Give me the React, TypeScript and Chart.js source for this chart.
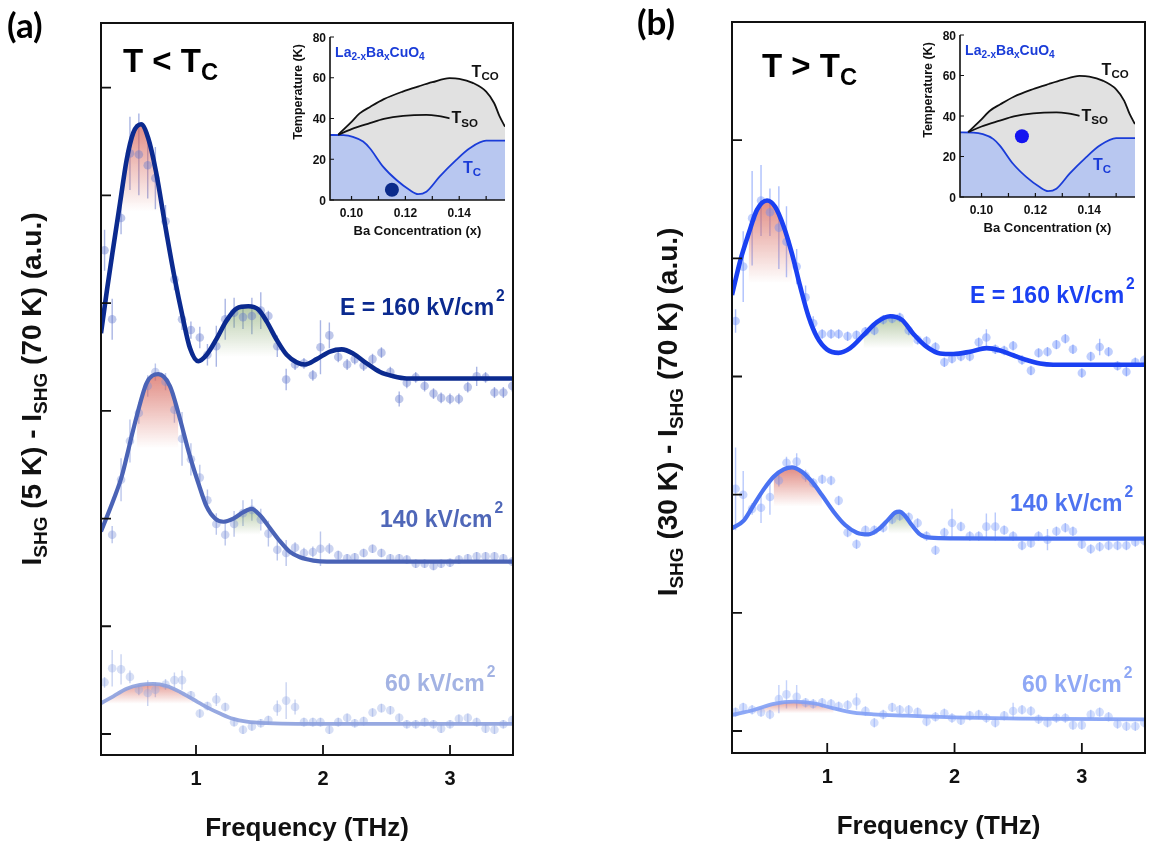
import { useEffect, useRef } from "react";
import { Chart, registerables } from "chart.js";

Chart.register(...registerables);

const SANS = '"Liberation Sans", Arial, Helvetica, sans-serif';
const LETTER = 'Lato, "Open Sans", sans-serif';

// ---------- data: main panels ----------
const FREQ = [0.28, 0.34, 0.41, 0.48, 0.55, 0.62, 0.68, 0.76, 0.83, 0.89, 0.96, 1.03, 1.09, 1.16, 1.23, 1.3, 1.37, 1.44, 1.51, 1.57, 1.64, 1.71, 1.78, 1.85, 1.92, 1.98, 2.05, 2.12, 2.19, 2.25, 2.32, 2.39, 2.46, 2.53, 2.6, 2.66, 2.73, 2.8, 2.87, 2.93, 3.0, 3.07, 3.14, 3.21, 3.28, 3.35, 3.42, 3.49];
const X_TICKS = [1, 2, 3];
const Y_TICKS_A = [0, 1, 2, 3, 4, 5, 6];
const Y_TICKS_B = [0, 1, 2, 3, 4, 5];

// Panel (a): T < Tc
const A160 = [4.49, 3.85, 4.79, 5.39, 5.38, 5.28, 5.16, 4.76, 4.22, 3.85, 3.75, 3.68, 3.52, 3.6, 3.85, 3.91, 3.87, 3.88, 3.93, 3.88, 3.6, 3.29, 3.43, 3.44, 3.33, 3.59, 3.7, 3.5, 3.43, 3.48, 3.42, 3.48, 3.54, 3.36, 3.11, 3.26, 3.31, 3.23, 3.16, 3.12, 3.11, 3.11, 3.22, 3.32, 3.31, 3.17, 3.17, 3.23];
const A160_ERR = [0.19, 0.19, 0.15, 0.34, 0.38, 0.31, 0.29, 0.15, 0.1, 0.1, 0.08, 0.1, 0.1, 0.19, 0.19, 0.14, 0.11, 0.17, 0.17, 0.05, 0.1, 0.1, 0.05, 0.05, 0.05, 0.25, 0.12, 0.05, 0.05, 0.05, 0.05, 0.05, 0.05, 0.05, 0.07, 0.05, 0.05, 0.05, 0.05, 0.05, 0.05, 0.05, 0.05, 0.09, 0.05, 0.05, 0.05, 0.05];
const A140 = [null, 1.85, 2.36, 2.72, 2.98, 3.23, 3.36, 3.27, 3.01, 2.74, 2.55, 2.38, 2.17, 1.95, 1.85, 1.95, 2.05, 2.08, 1.99, 1.86, 1.71, 1.68, 1.73, 1.68, 1.69, 1.72, 1.72, 1.66, 1.63, 1.64, 1.68, 1.72, 1.68, 1.63, 1.63, 1.62, 1.58, 1.58, 1.56, 1.58, 1.59, 1.62, 1.63, 1.65, 1.65, 1.65, 1.63, 1.6];
const A140_ERR = [0, 0.08, 0.2, 0.2, 0.1, 0.1, 0.08, 0.08, 0.12, 0.25, 0.15, 0.12, 0.1, 0.1, 0.1, 0.12, 0.12, 0.1, 0.1, 0.12, 0.1, 0.12, 0.05, 0.05, 0.05, 0.16, 0.05, 0.04, 0.04, 0.04, 0.04, 0.04, 0.04, 0.04, 0.04, 0.04, 0.04, 0.04, 0.04, 0.04, 0.04, 0.04, 0.04, 0.04, 0.04, 0.04, 0.04, 0.04];
const A60 = [0.48, 0.61, 0.6, 0.53, 0.41, 0.38, 0.41, 0.46, 0.5, 0.5, 0.36, 0.19, 0.26, 0.32, 0.25, 0.11, 0.04, 0.07, 0.1, 0.13, 0.24, 0.31, 0.25, 0.11, 0.11, 0.11, 0.04, 0.11, 0.15, 0.1, 0.12, 0.2, 0.24, 0.22, 0.15, 0.09, 0.09, 0.11, 0.09, 0.05, 0.09, 0.14, 0.15, 0.11, 0.05, 0.04, 0.09, 0.13];
const A60_ERR = [0.05, 0.17, 0.14, 0.06, 0.05, 0.12, 0.07, 0.05, 0.07, 0.09, 0.04, 0.04, 0.04, 0.06, 0.04, 0.04, 0.04, 0.04, 0.04, 0.04, 0.07, 0.17, 0.07, 0.04, 0.04, 0.04, 0.04, 0.04, 0.04, 0.04, 0.04, 0.04, 0.04, 0.04, 0.04, 0.04, 0.04, 0.04, 0.04, 0.04, 0.04, 0.04, 0.04, 0.04, 0.04, 0.04, 0.04, 0.04];
const FIT_A160 = [[0.252, 3.72], [0.3, 4.13], [0.349, 4.52], [0.402, 4.93], [0.454, 5.33], [0.506, 5.58], [0.567, 5.66], [0.624, 5.53], [0.685, 5.22], [0.759, 4.71], [0.829, 4.25], [0.895, 3.87], [0.953, 3.58], [1.018, 3.46], [1.084, 3.52], [1.163, 3.67], [1.242, 3.84], [1.32, 3.95], [1.412, 3.97], [1.491, 3.94], [1.556, 3.83], [1.635, 3.66], [1.714, 3.52], [1.793, 3.45], [1.858, 3.43], [1.95, 3.48], [2.055, 3.55], [2.147, 3.57], [2.239, 3.53], [2.344, 3.44], [2.449, 3.36], [2.554, 3.32], [2.659, 3.3], [2.8, 3.3], [3.0, 3.3], [3.2, 3.3], [3.496, 3.3]];
const FIT_A140 = [[0.252, 1.88], [0.349, 2.17], [0.415, 2.39], [0.48, 2.7], [0.533, 2.95], [0.612, 3.26], [0.703, 3.34], [0.795, 3.23], [0.861, 2.98], [0.953, 2.575], [1.018, 2.33], [1.084, 2.11], [1.15, 2.0], [1.215, 1.97], [1.294, 2.0], [1.373, 2.06], [1.438, 2.09], [1.504, 2.03], [1.583, 1.91], [1.661, 1.79], [1.74, 1.69], [1.819, 1.64], [1.924, 1.61], [2.03, 1.6], [2.5, 1.6], [3.0, 1.6], [3.496, 1.6]];
const FIT_A60 = [[0.252, 0.285], [0.349, 0.35], [0.454, 0.42], [0.559, 0.455], [0.664, 0.465], [0.769, 0.445], [0.874, 0.39], [0.979, 0.32], [1.084, 0.25], [1.189, 0.19], [1.294, 0.14], [1.399, 0.115], [1.557, 0.1], [1.793, 0.093], [2.5, 0.093], [3.496, 0.093]];

// Panel (b): T > Tc
const B160 = [3.47, 3.93, 4.34, 4.49, 4.39, 4.26, 4.14, 3.93, 3.67, 3.45, 3.36, 3.36, 3.36, 3.34, 3.35, 3.38, 3.39, 3.48, 3.49, 3.5, 3.39, 3.31, 3.3, 3.25, 3.12, 3.15, 3.17, 3.17, 3.29, 3.33, 3.23, 3.22, 3.26, 3.14, 3.05, 3.2, 3.21, 3.27, 3.32, 3.23, 3.03, 3.17, 3.25, 3.21, 3.09, 3.04, 3.12, 3.14];
const B160_ERR = [0.1, 0.3, 0.4, 0.3, 0.2, 0.35, 0.3, 0.15, 0.1, 0.06, 0.04, 0.04, 0.04, 0.04, 0.04, 0.04, 0.04, 0.04, 0.04, 0.04, 0.04, 0.04, 0.04, 0.04, 0.04, 0.04, 0.04, 0.04, 0.04, 0.07, 0.04, 0.04, 0.04, 0.04, 0.04, 0.04, 0.04, 0.04, 0.04, 0.04, 0.04, 0.04, 0.07, 0.04, 0.04, 0.04, 0.04, 0.04];
const B140 = [2.05, 2.0, 1.88, 1.89, 1.98, 2.12, 2.27, 2.28, 2.16, 2.1, 2.13, 2.12, 1.95, 1.68, 1.58, 1.7, 1.7, 1.72, 1.79, 1.82, 1.81, 1.76, 1.65, 1.53, 1.68, 1.76, 1.73, 1.65, 1.65, 1.73, 1.73, 1.7, 1.65, 1.57, 1.59, 1.65, 1.62, 1.69, 1.72, 1.69, 1.58, 1.54, 1.56, 1.57, 1.57, 1.57, 1.6, 1.61];
const B140_ERR = [0.35, 0.2, 0.05, 0.13, 0.15, 0.05, 0.05, 0.07, 0.05, 0.04, 0.04, 0.04, 0.04, 0.04, 0.04, 0.04, 0.04, 0.04, 0.04, 0.04, 0.04, 0.04, 0.04, 0.04, 0.04, 0.12, 0.04, 0.04, 0.04, 0.11, 0.12, 0.04, 0.04, 0.04, 0.04, 0.04, 0.09, 0.04, 0.04, 0.04, 0.04, 0.04, 0.04, 0.04, 0.04, 0.04, 0.04, 0.04];
const B60 = [0.16, 0.2, 0.18, 0.16, 0.14, 0.27, 0.31, 0.29, 0.24, 0.23, 0.24, 0.23, 0.21, 0.22, 0.25, 0.17, 0.07, 0.14, 0.2, 0.18, 0.18, 0.16, 0.08, 0.12, 0.15, 0.11, 0.09, 0.13, 0.14, 0.11, 0.07, 0.13, 0.17, 0.18, 0.17, 0.1, 0.07, 0.11, 0.11, 0.05, 0.05, 0.14, 0.16, 0.12, 0.06, 0.04, 0.04, 0.07];
const B60_ERR = [0.04, 0.04, 0.04, 0.04, 0.04, 0.12, 0.12, 0.1, 0.04, 0.04, 0.04, 0.04, 0.04, 0.04, 0.07, 0.04, 0.04, 0.04, 0.04, 0.04, 0.04, 0.04, 0.04, 0.04, 0.04, 0.04, 0.04, 0.04, 0.04, 0.04, 0.04, 0.04, 0.07, 0.04, 0.04, 0.04, 0.04, 0.04, 0.04, 0.04, 0.04, 0.04, 0.04, 0.04, 0.04, 0.04, 0.04, 0.04];
const FIT_B160 = [[0.252, 3.69], [0.318, 3.985], [0.383, 4.21], [0.448, 4.41], [0.527, 4.49], [0.592, 4.435], [0.658, 4.27], [0.723, 4.04], [0.788, 3.76], [0.854, 3.505], [0.919, 3.335], [0.997, 3.23], [1.089, 3.2], [1.18, 3.24], [1.285, 3.35], [1.39, 3.46], [1.494, 3.51], [1.586, 3.48], [1.677, 3.36], [1.782, 3.25], [1.886, 3.195], [1.991, 3.19], [2.122, 3.21], [2.252, 3.24], [2.357, 3.22], [2.461, 3.18], [2.566, 3.14], [2.671, 3.11], [2.775, 3.1], [3.0, 3.1], [3.496, 3.1]];
const FIT_B140 = [[0.252, 1.715], [0.344, 1.78], [0.422, 1.912], [0.501, 2.045], [0.579, 2.152], [0.658, 2.214], [0.723, 2.231], [0.801, 2.194], [0.88, 2.11], [0.958, 1.997], [1.05, 1.856], [1.141, 1.743], [1.233, 1.678], [1.324, 1.664], [1.403, 1.707], [1.481, 1.791], [1.533, 1.848], [1.567, 1.856], [1.612, 1.82], [1.664, 1.743], [1.729, 1.664], [1.808, 1.636], [1.991, 1.63], [2.5, 1.628], [3.0, 1.628], [3.496, 1.628]];
const FIT_B60 = [[0.252, 0.136], [0.422, 0.178], [0.579, 0.229], [0.736, 0.249], [0.893, 0.235], [1.05, 0.192], [1.207, 0.156], [1.363, 0.141], [1.625, 0.13], [1.991, 0.116], [2.514, 0.105], [3.496, 0.099]];

// ---------- data: inset phase diagram ----------
const T_CO = [[0.095, 32], [0.0995, 37.7], [0.103, 42.5], [0.107, 45.8], [0.112, 49.5], [0.119, 53.2], [0.125, 55.8], [0.13, 57.8], [0.1364, 59.8], [0.14, 59.5], [0.145, 57.5], [0.15, 53.2], [0.153, 47.5], [0.155, 41], [0.157, 36]];
const T_SO = [[0.095, 32], [0.1, 34.8], [0.1068, 37.7], [0.112, 39.8], [0.1192, 41.3], [0.1278, 41.8], [0.132, 41.3], [0.1364, 40.1]];
const T_C = [[0.092, 31.9], [0.097, 31.8], [0.1005, 31.0], [0.1043, 28.7], [0.1068, 25.4], [0.1117, 16.4], [0.1167, 9.8], [0.1216, 4.9], [0.1247, 2.9], [0.1278, 4.1], [0.1327, 11.5], [0.1389, 19.7], [0.1439, 25.4], [0.15, 29.1], [0.157, 29.1]];
const DOT_A = [0.115, 5];
const DOT_B = [0.115, 30];
const INSET_Y_TICKS = [0, 20, 40, 60, 80];
const INSET_X_TICKS = [0.1, 0.11, 0.12, 0.13, 0.14, 0.15];
const INSET_X_LABELS = [0.1, 0.12, 0.14];

// ---------- helpers ----------
type Run = { t: string; s?: "sub" | "sup" };
type RichOpt = {
  size: number; color: string; family?: string; align?: "left" | "center" | "right";
  subScale?: number; subShift?: number; supScale?: number; supShift?: number;
};

function drawRich(ctx: CanvasRenderingContext2D, runs: Run[], x: number, y: number, o: RichOpt) {
  const fam = o.family || SANS;
  const pieces = runs.map((r) => {
    const sz = r.s === "sub" ? o.size * (o.subScale ?? 0.68) : r.s === "sup" ? o.size * (o.supScale ?? 0.68) : o.size;
    ctx.font = `bold ${sz}px ${fam}`;
    const gap = r.s === "sup" ? 2 : 0;
    return { r, sz, w: ctx.measureText(r.t).width + gap, gap };
  });
  const total = pieces.reduce((s, p) => s + p.w, 0);
  let cx = o.align === "center" ? x - total / 2 : o.align === "right" ? x - total : x;
  ctx.textAlign = "left";
  ctx.textBaseline = "alphabetic";
  ctx.fillStyle = o.color;
  pieces.forEach((p) => {
    ctx.font = `bold ${p.sz}px ${fam}`;
    const dy = p.r.s === "sub" ? o.size * (o.subShift ?? 0.22) : p.r.s === "sup" ? -o.size * (o.supShift ?? 0.62) : 0;
    ctx.fillText(p.r.t, cx + p.gap, y + dy);
    cx += p.w;
  });
}

const gradFill = (rgb: string, alpha: number, top: number, base: number) => (c: any) => {
  const chart = c.chart;
  if (!chart.chartArea || !chart.scales.y) return `rgba(${rgb},0)`;
  const y = chart.scales.y;
  const g = chart.ctx.createLinearGradient(0, y.getPixelForValue(top), 0, y.getPixelForValue(base));
  g.addColorStop(0, `rgba(${rgb},${alpha})`);
  g.addColorStop(1, `rgba(${rgb},0)`);
  return g;
};

type Series = { vals: (number | null)[]; errs: number[]; fit: number[][]; line: string; lw: number; pts: string; bar: string };
type FillSpec = { fit: number[][]; lo: number; hi: number; base: number; rgb: string; alpha: number };
type TextSpec = { runs: Run[]; x: number; y: number; opt: RichOpt };

const RED = "212,90,78";
const GREEN = "110,150,80";

function mainConfig(series: Series[], fills: FillSpec[], yMin: number, yMax: number, pad: any, frame: any) {
  const datasets: any[] = [];
  series.forEach((s) =>
    datasets.push({
      data: s.fit.map(([x, y]) => ({ x, y })),
      borderColor: s.line, borderWidth: s.lw, pointRadius: 0, fill: false,
      cubicInterpolationMode: "monotone",
    })
  );
  series.forEach((s) =>
    datasets.push({
      data: FREQ.map((x, i) => ({ x, y: s.vals[i], e: s.errs[i] })).filter((p) => p.y != null),
      showLine: false, pointRadius: 4.3, pointBackgroundColor: s.pts, backgroundColor: s.pts,
      pointBorderWidth: 0, pointBorderColor: "rgba(0,0,0,0)", errColor: s.bar,
    })
  );
  fills.forEach((f) => {
    const sub = f.fit.filter(([x]) => x >= f.lo && x <= f.hi);
    const top = Math.max(...sub.map((p) => p[1]));
    datasets.push({
      data: sub.map(([x, y]) => ({ x, y })),
      borderWidth: 0, pointRadius: 0, fill: { value: f.base },
      backgroundColor: gradFill(f.rgb, f.alpha, top, f.base),
      cubicInterpolationMode: "monotone",
    });
  });
  return {
    type: "line",
    data: { datasets },
    options: {
      animation: false, responsive: false, maintainAspectRatio: false, events: [],
      layout: { padding: pad },
      plugins: { legend: { display: false }, tooltip: { enabled: false }, title: { display: false } },
      scales: {
        x: { type: "linear", display: false, min: 0.252, max: 3.496 },
        y: { type: "linear", display: false, min: yMin, max: yMax },
      },
    },
    plugins: [mainFrame(frame)],
  };
}

function mainFrame(cfg: { yTicks: number[]; yTitle: Run[]; yTitleX: number; yTitleY: number; texts: TextSpec[] }) {
  return {
    id: "mainFrame",
    beforeDatasetsDraw(chart: any) {
      const { ctx, chartArea: a, scales } = chart;
      ctx.save();
      ctx.beginPath();
      ctx.rect(a.left, a.top, a.right - a.left, a.bottom - a.top);
      ctx.clip();
      chart.data.datasets.forEach((ds: any, i: number) => {
        if (!ds.errColor) return;
        const meta = chart.getDatasetMeta(i);
        ctx.strokeStyle = ds.errColor;
        ctx.lineWidth = 1.4;
        ctx.beginPath();
        meta.data.forEach((pt: any, j: number) => {
          const d = ds.data[j];
          if (!d || !d.e) return;
          ctx.moveTo(pt.x, scales.y.getPixelForValue(d.y - d.e));
          ctx.lineTo(pt.x, scales.y.getPixelForValue(d.y + d.e));
        });
        ctx.stroke();
      });
      ctx.restore();
    },
    afterDraw(chart: any) {
      const { ctx, chartArea: a, scales } = chart;
      ctx.save();
      ctx.strokeStyle = "#111";
      ctx.lineWidth = 2;
      ctx.strokeRect(a.left, a.top, a.right - a.left, a.bottom - a.top);
      ctx.beginPath();
      cfg.yTicks.forEach((v) => {
        const py = scales.y.getPixelForValue(v);
        ctx.moveTo(a.left, py);
        ctx.lineTo(a.left + 10, py);
      });
      X_TICKS.forEach((v) => {
        const px = scales.x.getPixelForValue(v);
        ctx.moveTo(px, a.bottom);
        ctx.lineTo(px, a.bottom - 10);
      });
      ctx.lineWidth = 1.8;
      ctx.stroke();
      X_TICKS.forEach((v) =>
        drawRich(ctx, [{ t: String(v) }], scales.x.getPixelForValue(v), a.bottom + 30, { size: 20, color: "#111", align: "center" })
      );
      drawRich(ctx, [{ t: "Frequency (THz)" }], (a.left + a.right) / 2, a.bottom + 81, { size: 26, color: "#111", align: "center" });
      ctx.save();
      ctx.translate(cfg.yTitleX, cfg.yTitleY);
      ctx.rotate(-Math.PI / 2);
      drawRich(ctx, cfg.yTitle, 0, 0, { size: 28, color: "#111", align: "center", subScale: 0.68, subShift: 0.2 });
      ctx.restore();
      cfg.texts.forEach((t) => drawRich(ctx, t.runs, t.x, t.y, t.opt));
      ctx.restore();
    },
  };
}

function insetConfig(dot: number[], dotColor: string, pad: any) {
  const pts = (arr: number[][]) => arr.map(([x, y]) => ({ x, y }));
  const datasets: any[] = [
    { data: [{ x: dot[0], y: dot[1] }], showLine: false, pointRadius: 7, pointBackgroundColor: dotColor, pointBorderWidth: 0 },
    { data: pts(T_SO), borderColor: "#111", borderWidth: 1.8, pointRadius: 0, fill: false, cubicInterpolationMode: "monotone" },
    { data: pts(T_C), borderColor: "#1a3cd8", borderWidth: 1.8, pointRadius: 0, fill: "origin", backgroundColor: "rgb(184,199,240)", cubicInterpolationMode: "monotone" },
    { data: pts(T_CO), borderColor: "#111", borderWidth: 1.8, pointRadius: 0, fill: "origin", backgroundColor: "rgb(225,225,225)", cubicInterpolationMode: "monotone" },
  ];
  return {
    type: "line",
    data: { datasets },
    options: {
      animation: false, responsive: false, maintainAspectRatio: false, events: [],
      layout: { padding: pad },
      plugins: { legend: { display: false }, tooltip: { enabled: false }, title: { display: false } },
      scales: {
        x: { type: "linear", display: false, min: 0.092, max: 0.157 },
        y: { type: "linear", display: false, min: 0, max: 80 },
      },
    },
    plugins: [insetFrame()],
  };
}

function insetFrame() {
  return {
    id: "insetFrame",
    afterDraw(chart: any) {
      const { ctx, chartArea: a, scales } = chart;
      const X = scales.x, Y = scales.y;
      ctx.save();
      ctx.strokeStyle = "#111";
      ctx.lineWidth = 1.6;
      ctx.beginPath();
      ctx.moveTo(a.left, a.top);
      ctx.lineTo(a.left, a.bottom);
      ctx.lineTo(a.right, a.bottom);
      ctx.stroke();
      ctx.lineWidth = 1.2;
      ctx.beginPath();
      INSET_Y_TICKS.forEach((v) => {
        const py = Y.getPixelForValue(v);
        ctx.moveTo(a.left, py);
        ctx.lineTo(a.left + 4, py);
      });
      INSET_X_TICKS.forEach((v) => {
        const px = X.getPixelForValue(v);
        ctx.moveTo(px, a.bottom);
        ctx.lineTo(px, a.bottom - 4);
      });
      ctx.stroke();
      INSET_Y_TICKS.forEach((v) =>
        drawRich(ctx, [{ t: String(v) }], a.left - 4, Y.getPixelForValue(v) + 4.5, { size: 12, color: "#111", align: "right" })
      );
      INSET_X_LABELS.forEach((v) =>
        drawRich(ctx, [{ t: v.toFixed(2) }], X.getPixelForValue(v), a.bottom + 17, { size: 12, color: "#111", align: "center" })
      );
      drawRich(ctx, [{ t: "Ba Concentration (x)" }], (a.left + a.right) / 2, a.bottom + 35, { size: 13, color: "#111", align: "center" });
      ctx.save();
      ctx.translate(a.left - 28, a.top + 55);
      ctx.rotate(-Math.PI / 2);
      drawRich(ctx, [{ t: "Temperature (K)" }], 0, 0, { size: 12.5, color: "#111", align: "center" });
      ctx.restore();
      drawRich(ctx, [{ t: "La" }, { t: "2-x", s: "sub" }, { t: "Ba" }, { t: "x", s: "sub" }, { t: "CuO" }, { t: "4", s: "sub" }],
        X.getPixelForValue(0.0939), Y.getPixelForValue(70.3), { size: 14, color: "#1a3cd8", subScale: 0.72, subShift: 0.25 });
      drawRich(ctx, [{ t: "T" }, { t: "CO", s: "sub" }], X.getPixelForValue(0.1446), Y.getPixelForValue(60.4),
        { size: 16, color: "#111", subScale: 0.72, subShift: 0.22 });
      drawRich(ctx, [{ t: "T" }, { t: "SO", s: "sub" }], X.getPixelForValue(0.1371), Y.getPixelForValue(37.7),
        { size: 16, color: "#111", subScale: 0.72, subShift: 0.22 });
      drawRich(ctx, [{ t: "T" }, { t: "C", s: "sub" }], X.getPixelForValue(0.1414), Y.getPixelForValue(13.4),
        { size: 16, color: "#1a3cd8", subScale: 0.72, subShift: 0.22 });
      ctx.restore();
    },
  };
}

function ChartBox({ left, top, width, height, make }: { left: number; top: number; width: number; height: number; make: () => any }) {
  const ref = useRef<HTMLCanvasElement>(null);
  useEffect(() => {
    const chart = new Chart(ref.current as HTMLCanvasElement, make());
    return () => chart.destroy();
  }, []);
  return <canvas ref={ref} width={width} height={height} style={{ position: "absolute", left, top, width, height }} />;
}

const sup = (t: string): Run[] => [{ t }, { t: "2", s: "sup" }];
const LBL = { size: 23, supScale: 0.68, supShift: 0.62 };

function makeA() {
  const series: Series[] = [
    { vals: A160, errs: A160_ERR, fit: FIT_A160, line: "#0b2a8f", lw: 4.6, pts: "rgba(100,122,205,0.42)", bar: "rgba(100,122,205,0.55)" },
    { vals: A140, errs: A140_ERR, fit: FIT_A140, line: "#4a63b6", lw: 4.2, pts: "rgba(120,142,215,0.38)", bar: "rgba(120,142,215,0.5)" },
    { vals: A60, errs: A60_ERR, fit: FIT_A60, line: "rgba(140,160,222,0.9)", lw: 3.8, pts: "rgba(150,170,228,0.38)", bar: "rgba(150,170,228,0.5)" },
  ];
  const fills: FillSpec[] = [
    { fit: FIT_A160, lo: 0.4, hi: 0.76, base: 4.85, rgb: RED, alpha: 0.7 },
    { fit: FIT_A160, lo: 1.16, hi: 1.64, base: 3.5, rgb: GREEN, alpha: 0.5 },
    { fit: FIT_A140, lo: 0.53, hi: 0.87, base: 2.65, rgb: RED, alpha: 0.7 },
    { fit: FIT_A140, lo: 1.24, hi: 1.58, base: 1.85, rgb: GREEN, alpha: 0.5 },
    { fit: FIT_A60, lo: 0.25, hi: 0.98, base: 0.28, rgb: RED, alpha: 0.6 },
  ];
  return mainConfig(series, fills, -0.195, 6.6, { left: 101, right: 62, top: 23, bottom: 93 }, {
    yTicks: Y_TICKS_A,
    yTitle: [{ t: "I" }, { t: "SHG", s: "sub" }, { t: " (5 K) - I" }, { t: "SHG", s: "sub" }, { t: " (70 K) (a.u.)" }],
    yTitleX: 41, yTitleY: 389,
    texts: [
      { runs: [{ t: "(a)" }], x: 7, y: 38, opt: { size: 35, color: "#000", family: LETTER } },
      { runs: [{ t: "T < T" }, { t: "C", s: "sub" }], x: 123, y: 72, opt: { size: 33, color: "#000", subScale: 0.72, subShift: 0.25 } },
      { runs: sup("E = 160 kV/cm"), x: 340, y: 315, opt: { ...LBL, color: "#0b2a8f" } },
      { runs: sup("140 kV/cm"), x: 380, y: 527, opt: { ...LBL, color: "#4f67b8" } },
      { runs: sup("60 kV/cm"), x: 385, y: 691, opt: { ...LBL, color: "#a3b3e3" } },
    ],
  });
}

function makeB() {
  const series: Series[] = [
    { vals: B160, errs: B160_ERR, fit: FIT_B160, line: "#1a40f2", lw: 4.6, pts: "rgba(105,140,250,0.42)", bar: "rgba(105,140,250,0.55)" },
    { vals: B140, errs: B140_ERR, fit: FIT_B140, line: "#4a72f2", lw: 4.2, pts: "rgba(115,150,250,0.38)", bar: "rgba(115,150,250,0.5)" },
    { vals: B60, errs: B60_ERR, fit: FIT_B60, line: "rgba(130,160,245,0.9)", lw: 3.8, pts: "rgba(140,168,248,0.38)", bar: "rgba(140,168,248,0.5)" },
  ];
  const fills: FillSpec[] = [
    { fit: FIT_B160, lo: 0.37, hi: 0.73, base: 3.79, rgb: RED, alpha: 0.7 },
    { fit: FIT_B160, lo: 1.28, hi: 1.69, base: 3.24, rgb: GREEN, alpha: 0.5 },
    { fit: FIT_B140, lo: 0.55, hi: 0.96, base: 1.9, rgb: RED, alpha: 0.7 },
    { fit: FIT_B140, lo: 1.45, hi: 1.68, base: 1.67, rgb: GREEN, alpha: 0.5 },
    { fit: FIT_B60, lo: 0.32, hi: 1.1, base: 0.15, rgb: RED, alpha: 0.6 },
  ];
  return mainConfig(series, fills, -0.186, 6.0, { left: 157, right: 6, top: 22, bottom: 95 }, {
    yTicks: Y_TICKS_B,
    yTitle: [{ t: "I" }, { t: "SHG", s: "sub" }, { t: " (30 K) - I" }, { t: "SHG", s: "sub" }, { t: " (70 K) (a.u.)" }],
    yTitleX: 102, yTitleY: 412,
    texts: [
      { runs: [{ t: "(b)" }], x: 62, y: 35, opt: { size: 35, color: "#000", family: LETTER } },
      { runs: [{ t: "T > T" }, { t: "C", s: "sub" }], x: 187, y: 77, opt: { size: 33, color: "#000", subScale: 0.72, subShift: 0.25 } },
      { runs: sup("E = 160 kV/cm"), x: 395, y: 303, opt: { ...LBL, color: "#1a40f2" } },
      { runs: sup("140 kV/cm"), x: 435, y: 511, opt: { ...LBL, color: "#4d73f0" } },
      { runs: sup("60 kV/cm"), x: 447, y: 692, opt: { ...LBL, color: "#8fa8f5" } },
    ],
  });
}

export default function App() {
  return (
    <div style={{ position: "absolute", left: 0, top: 0, width: 1151, height: 848, background: "#fff", overflow: "hidden" }}>
      <ChartBox left={0} top={0} width={575} height={848} make={makeA} />
      <ChartBox left={575} top={0} width={576} height={848} make={makeB} />
      <ChartBox left={262} top={25} width={250} height={220} make={() => insetConfig(DOT_A, "#0a2a8a", { left: 68, right: 7, top: 12, bottom: 45 })} />
      <ChartBox left={892} top={23} width={250} height={220} make={() => insetConfig(DOT_B, "#1414f0", { left: 68, right: 6, top: 12, bottom: 46 })} />
    </div>
  );
}
